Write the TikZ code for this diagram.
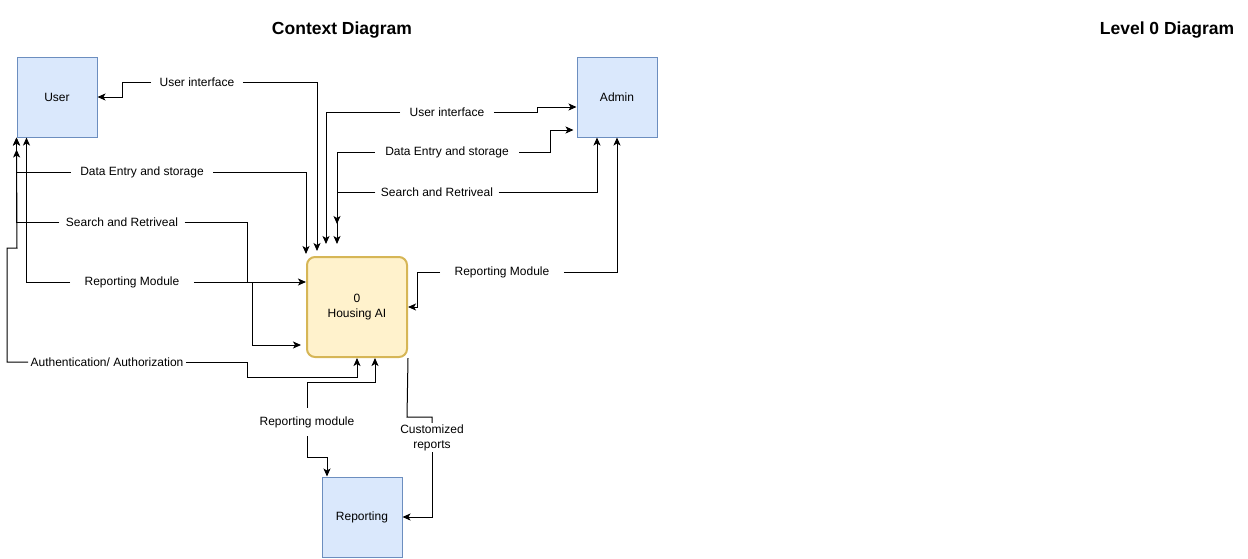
\documentclass[tikz,border=0pt]{standalone}
\usepackage{fontspec}
\setmainfont{Liberation Sans}
\usepackage{tikz}
\usetikzlibrary{arrows.meta}

\definecolor{entfill}{HTML}{DAE8FC}
\definecolor{entline}{HTML}{6C8EBF}
\definecolor{procfill}{HTML}{FFF2CC}
\definecolor{procline}{HTML}{D6B656}

\begin{document}
\begin{tikzpicture}[x=1pt,y=-1pt,line width=1pt,
    ent/.style={draw=entline,fill=entfill,minimum width=80pt,minimum height=80pt,font=\fontsize{12}{14}\selectfont},
    proc/.style={draw=procline,fill=procfill,line width=2pt,rounded corners=8pt,minimum width=100pt,minimum height=100pt,align=center,font=\fontsize{12}{15}\selectfont},
    flow/.style={fill=white,inner xsep=8pt,inner ysep=3pt,font=\fontsize{12}{15}\selectfont},
    arr/.style={-{Stealth[length=8pt,width=7pt,inset=2pt]}},
    title/.style={font=\fontsize{17.5}{20}\selectfont\bfseries}]
    \useasboundingbox (0,0) rectangle (1248,558);

    % 标题
    \node[title] (tctx) at (342,30) {Context Diagram};
    \node[title] (tlvl) at (1167,30) {Level 0 Diagram};

    % 实体与处理
    \node[ent] (user) at (57,97) {User};
    \node[ent] (admin) at (617,97) {Admin};
    \node[proc] (hai) at (357,307) {0\\Housing AI};
    \node[ent] (rep) at (362,517) {Reporting};

    % 数据流标签
    \node[flow,inner xsep=8pt] (lUIu) at (197,82) {User interface};
    \node[flow,inner xsep=9pt] (lDEu) at (142,172) {Data Entry and storage};
    \node[flow,inner xsep=6pt] (lSRu) at (122,222) {Search and Retriveal};
    \node[flow,inner xsep=14pt] (lRMu) at (132,282) {Reporting Module};
    \node[flow,inner xsep=2pt] (lAAu) at (107,362) {Authentication/ Authorization};
    \node[flow,inner xsep=9pt] (lUIa) at (447,112) {User interface};
    \node[flow,inner xsep=10pt] (lDEa) at (447,152) {Data Entry and storage};
    \node[flow,inner xsep=5pt] (lSRa) at (437,192) {Search and Retriveal};
    \node[flow,inner xsep=14pt] (lRMa) at (502,272) {Reporting Module};
    \node[flow,inner ysep=8pt] (lRMb) at (307,422) {Reporting module};
    \node[flow,inner ysep=1pt,align=center,font=\fontsize{12}{15}\selectfont] (lCR) at (432,437.5) {Customized\\reports};

    % User 一侧
    \draw[arr] (lUIu) -- (122,82) |- (user);
    \draw[arr,shorten >=5pt] (lUIu) -| ([xshift=11pt]hai.north west);
    \draw[arr] (lDEu) -| (user.south west);
    \draw[arr,shorten >=2pt] (lDEu) -| (hai.north west);
    \draw[arr] (lSRu) -| (user.south west);
    \draw[arr,shorten >=5pt] (lSRu) -- (247,222) -- (247,282) -- (252,282) |- ([yshift=13pt]hai.south west);
    \draw[arr] (lRMu) -| ([xshift=10pt]user.south west);
    \draw[arr] (lRMu) -- (lRMu -| hai.west);
    \draw[arr,shorten >=12pt] (lAAu) -- (7,362) -- (7,248) -- (17,248) -- (user.south west);
    \draw[arr] (lAAu) -- (247,362) -- (247,377) -| (hai.south);

    % Admin 一侧
    \draw[arr] (lUIa) -- (537,112) -- (537,107) -- ([yshift=-10pt]admin.west);
    \draw[arr,shorten >=12pt] (lUIa) -| ([xshift=20pt]hai.north west);
    \draw[arr] (lDEa) -- (550,152) -- (550,130) -- ([xshift=-3pt,yshift=-33pt]admin.west);
    \draw[arr,shorten >=12pt] (lDEa) -| ([xshift=31pt]hai.north west);
    \draw[arr] (lSRa) -| ([xshift=-20pt]admin.south);
    \draw[arr,shorten >=32pt] (lSRa) -| ([xshift=31pt]hai.north west);
    \draw[arr] (lRMa) -| (admin.south);
    \draw[arr] (lRMa) -- (417,272) |- (hai.east);

    % Reporting 一侧
    \draw[arr] (lRMb) -- (307,382) -| ([xshift=18pt]hai.south);
    \draw[arr] (lRMb) -- (307,457) -| ([xshift=-35pt]rep.north);
    \draw (hai.south east) -- (407,417) -- (432,417) -- (lCR);
    \draw[arr] (lCR) |- (rep.east);
\end{tikzpicture}
\end{document}
